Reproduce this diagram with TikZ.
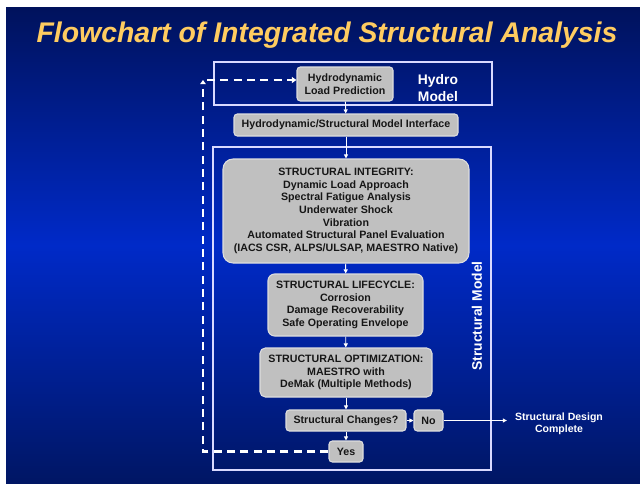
\documentclass[tikz,border=0pt]{standalone}
\usepackage{fontspec}
\setmainfont{Liberation Sans}
\usetikzlibrary{arrows.meta,calc}
\definecolor{navytop}{RGB}{0,18,92}
\definecolor{bluemid}{RGB}{0,42,200}
\definecolor{navybot}{RGB}{0,22,100}
\definecolor{titleyellow}{RGB}{255,204,96}
\definecolor{boxfill}{RGB}{192,192,192}
\definecolor{boxline}{RGB}{222,222,222}
\definecolor{boxtext}{RGB}{22,22,22}
\tikzset{
  px/.style={x={(0.75pt,0)},y={(0,-0.75pt)}},
  graybox/.style={draw=boxline,line width=0.8pt,fill=boxfill,text=boxtext,
    font=\fontsize{8}{9.5}\selectfont\bfseries,align=center,inner sep=0pt,
    rounded corners=2.5pt},
  frame/.style={draw=white!85!blue,line width=0.9pt},
  flow/.style={draw=white,line width=0.7pt,-{Triangle[length=3pt,width=3pt]}},
  loopline/.style={draw=white,line width=1.6pt,dash pattern=on 6pt off 4pt},
  whitelabel/.style={text=white,font=\fontsize{10.4}{12.8}\selectfont\bfseries,align=center,inner sep=0pt}
}
\begin{document}
\begin{tikzpicture}[px]
\useasboundingbox (0,0) rectangle (640,483);
\fill[white] (0,0) rectangle (640,483);
\shade[top color=navytop,bottom color=bluemid] (6,7) rectangle (640,245.5);
\shade[top color=bluemid,bottom color=navybot] (6,245) rectangle (640,483);

\node[text=titleyellow,font=\fontsize{21.3}{24}\selectfont\bfseries\itshape,inner sep=0pt] (title) at (327,35) {Flowchart of Integrated Structural Analysis};

% frames
\draw[frame] (214,62) rectangle (492,105);
\draw[frame] (213,147) rectangle (491,470);
\node[whitelabel] (hydrolbl) at (438,88) {Hydro\\Model};
\node[whitelabel,rotate=90] (structlbl) at (477,316) {Structural Model};

% boxes
\node[graybox,minimum width=72pt,minimum height=25.5pt] (hydro) at (345,84) {Hydrodynamic\\Load Prediction};
\node[graybox,minimum width=168pt,minimum height=16.5pt] (iface) at (346,125) {Hydrodynamic/Structural Model Interface};
\node[graybox,rounded corners=7.5pt,minimum width=184.5pt,minimum height=78pt] (integ) at (346,211) {STRUCTURAL INTEGRITY:\\Dynamic Load Approach\\Spectral Fatigue Analysis\\Underwater Shock\\Vibration\\Automated Structural Panel Evaluation\\(IACS CSR, ALPS/ULSAP, MAESTRO Native)};
\node[graybox,rounded corners=5pt,minimum width=116.25pt,minimum height=46.5pt] (life) at (345.5,305) {STRUCTURAL LIFECYCLE:\\Corrosion\\Damage Recoverability\\Safe Operating Envelope};
\node[graybox,rounded corners=4pt,minimum width=129pt,minimum height=36.75pt] (opt) at (346,372.5) {STRUCTURAL OPTIMIZATION:\\MAESTRO with\\DeMak (Multiple Methods)};
\node[graybox,minimum width=90pt,minimum height=15.75pt] (chg) at (346,420.5) {Structural Changes?};
\node[graybox,minimum width=21.75pt,minimum height=15.75pt] (no) at (428.5,420.5) {No};
\node[graybox,minimum width=25.5pt,minimum height=15.75pt] (yes) at (346,451.5) {Yes};
\node[text=white,font=\fontsize{7.9}{9.3}\selectfont\bfseries,align=center,inner sep=0pt] (done) at (559,424) {Structural Design\\Complete};

% connectors
\draw[flow] (hydro) -- (iface);
\draw[flow] (iface) -- (integ);
\draw[flow] (integ) -- (life);
\draw[flow] (life) -- (opt);
\draw[flow] (opt) -- (chg);
\draw[flow] (chg) -- (no);
\draw[flow] (chg) -- (yes);
\draw[flow,shorten >=6pt] (no.east) -- (done.west|-no.east);

% feedback loop
\coordinate (loopcorner) at (203,80);
\draw[loopline,-{Triangle[length=3pt,width=4pt]}] (yes.west) -| (loopcorner);
\draw[loopline,-{Triangle[length=3.5pt,width=4.5pt]}] ($(loopcorner)+(4,0)$) -- (loopcorner -| hydro.west);
\end{tikzpicture}
\end{document}
